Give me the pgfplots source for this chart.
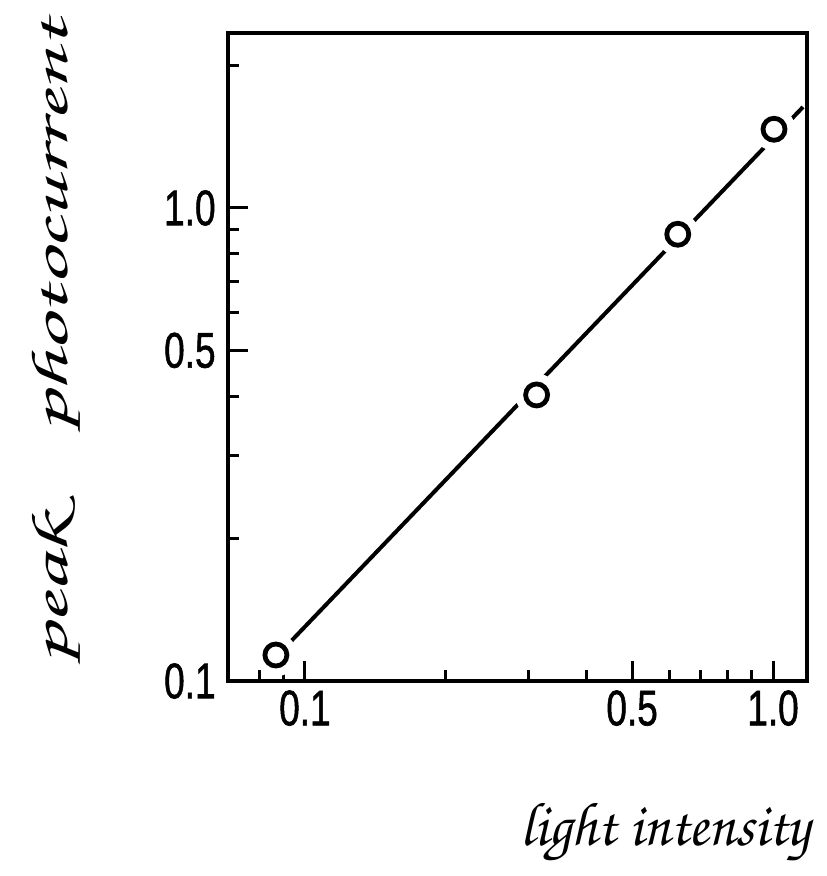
\documentclass[border=0pt]{standalone}
\usepackage[T1,TU]{fontenc}
\usepackage{fontspec}
\setmainfont{Liberation Sans}
\newfontfamily\tickfont[FakeBold=1.3]{Liberation Sans}
\usepackage{graphicx}
\usepackage{pgfplots}
\pgfplotsset{compat=1.18}

% script face for the hand-lettered axis titles
\newcommand\hand{\fontencoding{T1}\fontfamily{pzc}\fontseries{mb}\fontshape{it}\selectfont}
% narrow digits for the tick labels
\newcommand\tl[1]{\scalebox{0.74}[1]{#1}}

\begin{document}
\begin{tikzpicture}
\begin{axis}[
  scale only axis, width=289.5pt, height=324pt,
  xmode=log, ymode=log,
  xmin=0.0685, xmax=1.182, ymin=0.1, ymax=2.344,
  axis line style={line width=2pt},
  axis on top,
  xtick pos=bottom, ytick pos=left,
  tick align=inside,
  xtick={0.1,0.5,1}, xticklabels={\tl{0.1},\tl{0.5},\tl{1.0}},
  ytick={0.1,0.5,1}, yticklabels={\tl{0.1},\tl{0.5},\tl{1.0}},
  minor xtick={0.08,0.09,0.2,0.3,0.4,0.6,0.7,0.8,0.9},
  minor ytick={0.2,0.3,0.4,0.6,0.7,0.8,0.9,2},
  major tick length=10pt, minor tick length=5.5pt,
  tick style={black, line width=1.5pt},
  tick label style={font=\tickfont\fontsize{25}{25}\selectfont, inner sep=0pt},
  xticklabel style={yshift=-4.5pt},
  yticklabel style={xshift=-6pt},
]
\coordinate (O) at (rel axis cs:0,0);
% fitted line
\addplot[black, line width=2pt] coordinates {(0.0867,0.1124) (1.159,1.635)};
% measured points, with a clear gap cut into the line around each
\addplot[only marks, mark=*, mark size=10.5pt, white, mark options={draw=white, fill=white}]
  coordinates {(0.0867,0.1135) (0.3126,0.4025) (0.626,0.880) (1.005,1.467)};
\addplot[only marks, mark=o, mark size=5.5pt, black, line width=2.4pt]
  coordinates {(0.0867,0.1135) (0.3126,0.4025) (0.626,0.880) (1.005,1.467)};
\end{axis}
\node[rotate=90, anchor=base west, inner sep=0pt] at ([shift={(-80pt,8pt)}]O)
  {\resizebox{322pt}{\height}{\fontsize{26}{26}\hand peak\hspace{0.9em}photocurrent}};
\node[anchor=base west, inner sep=0pt] at ([shift={(146pt,-82pt)}]O)
  {\resizebox{145pt}{\height}{\fontsize{31}{31}\hand light intensity}};
\pgfresetboundingbox
\path[use as bounding box] ([shift={(-114pt,-97.5pt)}]O) rectangle ([shift={(299pt,340.5pt)}]O);
\end{tikzpicture}
\end{document}
